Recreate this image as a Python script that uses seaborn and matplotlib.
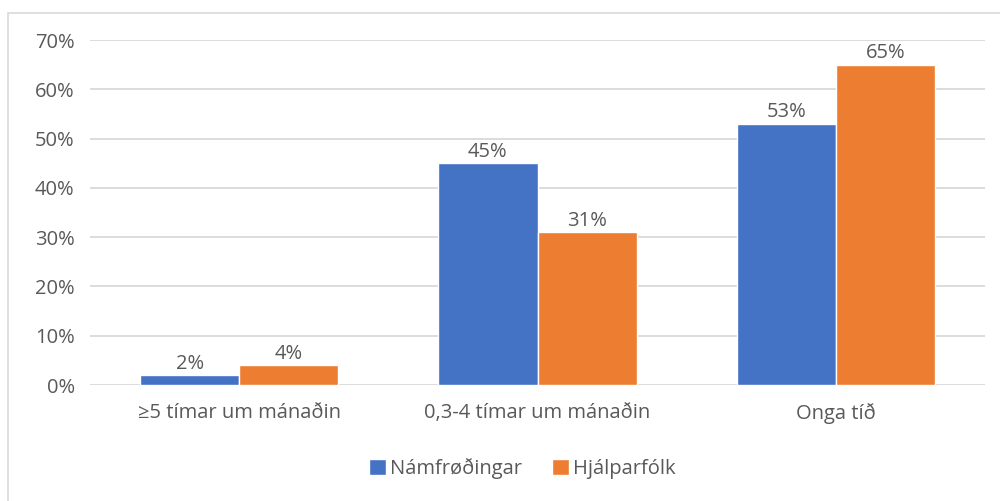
import pandas as pd
import matplotlib
matplotlib.use("Agg")
import matplotlib.pyplot as plt
import seaborn as sns
from matplotlib.patches import Rectangle

# Data
categories = ["≥5 tímar um mánaðin", "0,3-4 tímar um mánaðin", "Onga tíð"]
namfrodingar = [0.02, 0.45, 0.53]
hjalparfolk = [0.04, 0.31, 0.65]
series_names = ["Námfrøðingar", "Hjálparfólk"]
yticks = [0, 0.1, 0.2, 0.3, 0.4, 0.5, 0.6, 0.7]

df = pd.DataFrame({
    "Category": categories * 2,
    "Value": namfrodingar + hjalparfolk,
    "Group": [series_names[0]] * 3 + [series_names[1]] * 3,
})

sns.set_style("white")
plt.rcParams['font.family'] = ['Open Sans', 'DejaVu Sans']

text_color = "#595959"
grid_color = "#d9d9d9"
fs = 14.5

fig = plt.figure(figsize=(10, 5.01), dpi=100)
ax = fig.add_axes([0.09, 0.2315, 0.895, 0.6885])

sns.barplot(data=df, x="Category", y="Value", hue="Group",
            palette=["#4472C4", "#ED7D31"], width=0.665, saturation=1,
            ax=ax, zorder=3)

ax.set_ylim(0, 0.7)
ax.set_xlim(-0.5, 2.5)
ax.set_yticks(yticks)
ax.set_yticklabels([f"{int(round(t * 100))}%" for t in yticks])
ax.yaxis.grid(True, color=grid_color, linewidth=1.3, zorder=0)
ax.set_axisbelow(True)
for s in ax.spines.values():
    s.set_visible(False)
ax.tick_params(axis="both", length=0, colors=text_color, labelsize=fs)
ax.tick_params(axis="y", pad=11)
ax.tick_params(axis="x", pad=13)
ax.set_xlabel("")
ax.set_ylabel("")

for cont in ax.containers:
    ax.bar_label(cont, labels=[f"{int(round(v * 100))}%" for v in cont.datavalues],
                 padding=1, color=text_color, fontsize=fs)

ax.legend(loc="upper center", bbox_to_anchor=(0.483, -0.16), ncol=2, frameon=False,
          fontsize=fs, labelcolor=text_color, handlelength=0.85, handleheight=0.85,
          handletextpad=0.2, columnspacing=1.5)

# light outer frame
fig.patches.append(Rectangle((0.008, -0.01), 1.1, 0.985, transform=fig.transFigure,
                             fill=False, edgecolor="#d9d9d9", linewidth=1.2))

fig.savefig("out.png", dpi=100)
